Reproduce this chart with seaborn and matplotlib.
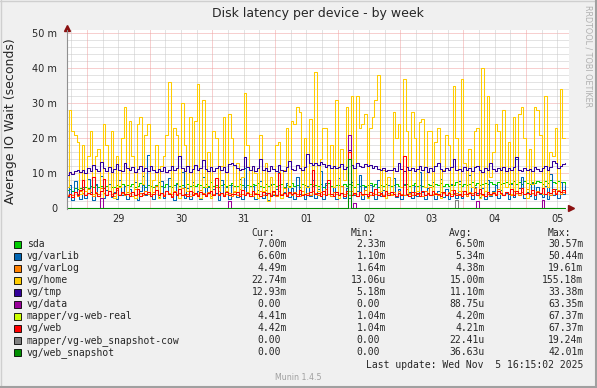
import numpy as np
import pandas as pd
import matplotlib
matplotlib.use("Agg")
import matplotlib.pyplot as plt
from matplotlib.patches import Rectangle
import seaborn as sns

W, H = 597, 388

devices = ["sda", "vg/varLib", "vg/varLog", "vg/home", "vg/tmp", "vg/data",
           "mapper/vg-web-real", "vg/web", "mapper/vg-web_snapshot-cow", "vg/web_snapshot"]
colors = ["#00CC00", "#0066B3", "#FF8000", "#FFCC00", "#330099", "#990099",
          "#CCFF00", "#FF0000", "#808080", "#008F00"]

# hourly average IO wait in milliseconds, first sample Oct 28 16:00
sda = [5.2, 5.4, 5.0, 5.6, 5.3, 5.8, 5.5, 6.1, 5.7, 6.3, 5.9, 6.6, 6.0, 6.4, 5.8, 6.2, 6.8, 6.1, 5.9, 6.5, 6.3, 7.0, 6.2, 6.6,
       6.4, 6.9, 6.0, 6.3, 7.2, 6.5, 6.1, 6.7, 6.3, 5.9, 6.6, 7.4, 6.2, 6.0, 6.8, 6.4, 6.1, 6.7, 7.1, 6.3, 6.5, 6.0, 6.9, 6.2,
       6.6, 6.3, 7.0, 6.5, 6.1, 6.8, 6.4, 7.3, 6.2, 6.7, 6.0, 6.5, 6.9, 6.3, 6.6, 7.1, 6.4, 6.2, 6.8, 6.5, 6.0, 6.7, 6.3, 6.9,
       6.5, 7.2, 6.4, 6.0, 6.8, 6.3, 6.6, 7.0, 6.2, 6.5, 6.9, 6.1, 6.7, 6.4, 7.1, 6.3, 6.6, 6.0, 6.8, 6.5, 6.2, 7.0, 6.4, 6.7,
       6.3, 6.9, 6.1, 6.6, 7.2, 6.4, 6.0, 6.7, 6.5, 6.2, 6.8, 6.3, 7.0, 6.6, 6.1, 6.9, 6.4, 6.7, 6.2, 6.5, 7.1, 6.3, 6.8, 6.0,
       6.6, 6.3, 6.9, 6.5, 6.2, 6.7, 7.0, 6.4, 6.1, 6.6, 6.8, 6.3, 6.5, 7.2, 6.2, 6.7, 6.4, 6.0, 6.9, 6.5, 6.3, 6.8, 6.6, 7.1,
       6.4, 6.9, 6.2, 6.7, 6.5, 7.3, 6.8, 6.4, 7.0, 6.6, 6.9, 7.4, 6.7, 7.1, 6.5, 6.8, 7.2, 6.9, 7.5, 7.0, 6.7, 7.3, 6.9, 7.1,
       7.4, 6.8, 7.2, 7.6, 6.9, 7.3, 7.0, 7.7, 7.2, 6.9, 7.5, 7.1, 7.8, 7.3, 7.0, 7.6, 7.2, 7.9, 7.4, 7.1, 7.7, 7.3, 7.5, 7.0]

var_lib = [3.2, 6.5, 2.4, 7.8, 4.1, 2.6, 5.9, 3.0, 8.4, 4.5, 2.2, 6.8, 3.5, 9.1, 2.8, 5.2, 7.0, 3.1, 4.6, 2.5, 8.0, 3.8, 6.2, 2.7,
           5.5, 3.3, 7.4, 2.4, 4.9, 9.2, 3.6, 15.2, 4.0, 2.6, 6.4, 3.2, 7.7, 2.9, 5.0, 8.6, 3.4, 2.3, 6.9, 4.2, 10.3, 3.0, 5.7, 2.6,
           7.5, 3.9, 4.8, 2.5, 8.8, 3.6, 6.1, 2.8, 5.4, 4.4, 2.4, 7.9, 3.3, 5.9, 2.7, 6.6, 4.0, 3.1, 8.2, 2.6, 11.4, 4.7, 3.5, 6.3,
           2.5, 5.2, 7.6, 3.0, 4.3, 2.4, 6.8, 3.7, 5.5, 10.2, 2.8, 4.6, 7.1, 3.2, 5.8, 2.5, 9.0, 3.9, 4.9, 2.7, 6.4, 3.4, 8.1, 3.0,
           5.3, 10.6, 2.6, 7.2, 4.1, 3.3, 6.0, 2.5, 8.5, 4.4, 3.0, 5.6, 2.8, 7.3, 3.6, 4.8, 9.5, 2.7, 5.9, 3.2, 6.7, 4.3, 2.6, 7.9,
           3.5, 5.1, 2.8, 6.5, 4.0, 8.7, 3.1, 5.4, 2.5, 7.0, 3.8, 4.6, 2.9, 6.2, 3.3, 10.4, 4.5, 2.7, 5.8, 3.6, 7.4, 2.6, 4.9, 8.3,
           3.2, 5.5, 2.5, 6.9, 4.2, 3.0, 7.7, 2.8, 5.0, 3.9, 9.3, 2.6, 6.1, 4.4, 3.1, 5.7, 2.7, 8.0, 3.5, 4.8, 6.6, 2.9, 5.2, 3.7,
           4.3, 2.6, 6.8, 3.2, 14.1, 5.6, 8.9, 2.8, 4.5, 3.4, 7.2, 2.7, 5.9, 4.0, 3.1, 6.4, 2.5, 9.8, 3.6, 5.3, 2.9, 7.5, 4.1, 6.6]

var_log = [3.6, 4.1, 3.8, 4.5, 3.4, 4.9, 4.2, 3.7, 5.3, 4.0, 3.5, 4.6, 3.9, 5.8, 4.3, 3.6, 4.8, 4.1, 3.4, 5.1, 3.8, 4.4, 3.6, 4.7,
           4.2, 3.5, 5.5, 3.9, 4.3, 3.7, 4.9, 4.1, 3.3, 4.6, 6.2, 3.8, 4.4, 3.6, 5.0, 4.2, 3.5, 4.8, 3.9, 4.3, 5.6, 3.7, 4.1, 3.4,
           4.7, 4.0, 3.6, 5.2, 4.3, 3.8, 4.6, 3.5, 4.1, 6.0, 3.9, 4.4, 3.7, 4.9, 4.2, 3.5, 4.5, 3.8, 5.3, 4.0, 3.6, 4.7, 4.1, 3.4,
           4.4, 3.9, 4.8, 3.6, 5.1, 4.2, 3.7, 4.5, 3.4, 4.9, 4.0, 5.7, 3.8, 4.3, 3.6, 4.6, 4.1, 3.5, 5.0, 3.9, 4.4, 3.7, 4.8, 4.2,
           3.6, 4.5, 3.9, 5.4, 4.1, 3.5, 4.7, 4.0, 3.7, 6.4, 3.9, 4.3, 3.6, 4.8, 4.2, 3.5, 4.6, 3.8, 5.2, 4.0, 3.6, 4.4, 3.9, 4.7,
           4.1, 3.6, 5.0, 4.3, 3.8, 4.5, 3.5, 4.9, 4.0, 3.7, 5.5, 4.2, 3.6, 4.6, 3.9, 4.3, 3.5, 4.8, 4.1, 5.9, 3.8, 4.4, 3.6, 4.7,
           4.2, 3.7, 4.5, 5.1, 3.9, 4.3, 3.6, 4.8, 4.0, 3.5, 4.6, 4.2, 5.6, 3.8, 4.4, 3.7, 4.9, 4.1, 3.6, 4.5, 3.9, 5.3, 4.2, 3.7,
           4.6, 4.0, 3.8, 5.0, 4.3, 3.6, 4.7, 4.1, 5.4, 3.9, 4.4, 3.7, 4.8, 4.2, 5.8, 4.0, 4.5, 3.8, 4.9, 4.3, 5.2, 4.1, 4.6, 4.5]

home = [6, 28, 22, 21, 19, 4, 18, 5, 15, 22, 4, 15, 17, 3, 24, 18, 5, 22, 3, 15, 6, 20, 29, 4,
        25, 15, 3, 24, 26, 7, 21, 24, 4, 8, 18, 3, 12, 15, 21, 36, 4, 23, 21, 3, 30, 18, 5, 26,
        4, 25, 35.5, 3, 31, 6, 16, 3, 22, 20, 5, 12, 26, 4, 27, 20, 5, 13, 4, 9, 33, 18, 4, 12,
        10, 3, 21, 5, 13, 2, 9, 4, 18, 19, 3, 11, 23, 6, 25, 24, 29, 27.5, 4, 20, 6, 25.5, 7, 39,
        5, 14, 23, 23, 4, 18, 6, 31, 3, 17, 8, 29, 5, 32, 4, 32, 23, 24, 27, 3, 23, 26, 31, 38,
        5, 11, 3, 9, 4, 27.5, 20, 24, 6, 37, 22, 4, 27.5, 20, 5, 24.5, 25.5, 6, 22, 22, 4, 19, 23, 3,
        11, 21, 18, 4, 35, 20, 5, 37, 13, 4, 17, 6, 22, 23, 3, 40, 5, 32, 9, 16, 24, 22, 4, 28,
        6, 19, 4, 26, 5, 27, 29, 20, 3, 17, 7, 29, 28, 21, 4, 32, 6, 16, 15, 23, 5, 34, 20, 20]

tmp = [9.5, 10.2, 9.8, 10.6, 11.0, 10.3, 10.8, 9.9, 11.4, 10.6, 12.2, 11.1, 10.5, 13.2, 11.3, 10.7, 11.8, 10.4, 11.2, 12.5, 11.0, 10.6, 12.8, 11.4,
       10.8, 11.6, 10.3, 11.1, 12.0, 10.7, 11.3, 10.5, 11.9, 10.9, 10.4, 11.2, 10.6, 11.7, 10.2, 11.0, 12.1, 10.8, 11.5, 15.0, 11.3, 10.6, 11.9, 10.4,
       11.2, 12.4, 10.9, 11.5, 13.6, 11.1, 10.7, 11.8, 10.5, 11.3, 12.0, 10.8, 11.6, 10.4, 12.6, 12.9, 12.2, 11.5, 10.8, 11.2, 14.5, 11.6, 10.9, 12.0,
       10.5, 11.3, 14.0, 10.9, 11.5, 10.6, 11.9, 11.2, 10.7, 12.3, 11.0, 10.5, 11.7, 13.5, 11.1, 10.8, 12.2, 11.4, 10.9, 11.6, 15.5, 13.0, 12.4, 12.9,
       12.3, 13.1, 12.6, 11.8, 12.4, 11.5, 12.0, 11.3, 11.7, 12.5, 11.1, 11.6, 16.7, 12.2, 11.4, 12.8, 12.1, 11.6, 12.5, 11.9, 12.3, 11.4, 12.0, 11.2,
       10.8, 11.3, 10.6, 11.0, 10.9, 11.5, 10.7, 13.0, 11.2, 10.6, 11.8, 10.9, 11.4, 10.5, 11.1, 12.0, 10.8, 11.6, 10.4, 11.3, 10.7, 11.9, 13.0, 11.1,
       10.6, 11.4, 10.9, 11.7, 14.0, 10.8, 11.2, 10.5, 11.6, 10.9, 11.3, 10.6, 11.8, 12.0, 11.0, 10.4, 11.5, 10.8, 12.9, 11.2, 10.7, 11.4, 10.9, 11.6,
       10.5, 11.3, 10.8, 11.7, 14.5, 11.0, 10.6, 11.5, 10.9, 11.2, 10.7, 11.8, 11.1, 10.5, 11.4, 12.0, 10.9, 11.6, 13.5, 12.8, 11.3, 11.9, 12.6, 12.9]

web = [3.5, 4.1, 3.2, 4.6, 3.8, 5.2, 8.1, 3.6, 4.4, 3.9, 9.0, 4.3, 3.4, 5.0, 8.2, 3.7, 4.8, 3.3, 4.2, 5.6, 3.6, 4.5, 3.9, 4.1,
       3.4, 4.7, 3.8, 5.3, 3.5, 4.2, 3.9, 4.6, 3.3, 4.0, 5.1, 3.7, 4.4, 3.5, 4.8, 3.9, 3.2, 4.5, 3.8, 5.4, 3.6, 4.1, 3.4, 4.9,
       3.7, 4.3, 3.5, 4.6, 3.9, 3.3, 4.2, 5.0, 3.6, 8.5, 3.8, 4.4, 3.4, 4.7, 3.6, 4.1, 3.9, 4.5, 3.3, 5.2, 3.7, 4.2, 3.5, 4.8,
       3.9, 4.0, 3.4, 4.6, 3.8, 4.3, 3.5, 4.9, 3.7, 10.1, 3.6, 4.2, 3.4, 4.7, 3.9, 4.4, 3.5, 5.1, 3.8, 4.0, 3.6, 4.5, 11.0, 3.9,
       4.3, 3.5, 4.8, 3.7, 8.0, 4.1, 3.4, 4.6, 3.8, 4.2, 3.5, 4.9, 16.0, 3.6, 4.4, 3.3, 4.7, 3.9, 4.1, 3.5, 4.6, 3.8, 5.3, 3.6,
       4.2, 3.4, 4.8, 3.7, 4.5, 3.9, 3.3, 4.3, 3.6, 15.0, 4.0, 3.5, 4.7, 3.8, 4.2, 3.4, 4.9, 3.7, 4.4, 3.6, 5.0, 3.9, 4.1, 3.5,
       4.6, 3.8, 4.3, 3.5, 5.2, 3.7, 4.0, 3.4, 4.8, 3.9, 4.4, 3.6, 4.7, 3.8, 5.5, 4.1, 3.5, 4.6, 3.9, 4.3, 3.7, 5.0, 4.2, 3.8,
       4.5, 4.0, 5.3, 3.7, 4.8, 4.2, 5.6, 3.9, 4.4, 4.1, 5.1, 3.8, 4.7, 4.3, 5.8, 4.0, 4.6, 4.2, 5.4, 4.1, 4.9, 4.5, 5.2, 4.4]

# mapper/vg-web-real follows vg/web and sits hidden beneath it
web_real = web

# mostly idle devices: hour index -> ms
data_spikes = {13: 3.0, 62: 2.0, 108: 21.0, 110: 1.5, 157: 2.0, 182: 2.3}
cow_spikes = {149: 2.3}
snapshot_spikes = {108: 14.0}

cur_vals = ["7.00m", "6.60m", "4.49m", "22.74m", "12.93m", "0.00", "4.41m", "4.42m", "0.00", "0.00"]
min_vals = ["2.33m", "1.10m", "1.64m", "13.06u", "5.18m", "0.00", "1.04m", "1.04m", "0.00", "0.00"]
avg_vals = ["6.50m", "5.34m", "4.38m", "15.00m", "11.10m", "88.75u", "4.20m", "4.21m", "22.41u", "36.63u"]
max_vals = ["30.57m", "50.44m", "19.61m", "155.18m", "33.38m", "63.35m", "67.37m", "67.37m", "19.24m", "42.01m"]

day_labels = ["29", "30", "31", "01", "02", "03", "04", "05"]


def from_spikes(spikes, n):
    vals = np.zeros(n)
    for k, v in spikes.items():
        vals[k] = v
    return vals


n = len(home)
series = {
    "sda": sda, "vg/varLib": var_lib, "vg/varLog": var_log, "vg/home": home, "vg/tmp": tmp,
    "vg/data": from_spikes(data_spikes, n), "mapper/vg-web-real": web_real, "vg/web": web,
    "mapper/vg-web_snapshot-cow": from_spikes(cow_spikes, n),
    "vg/web_snapshot": from_spikes(snapshot_spikes, n),
}
frames = []
for dev in devices:
    vals = series[dev]
    frames.append(pd.DataFrame({"hour": 16 + np.arange(len(vals)), "ms": vals, "device": dev}))
df = pd.concat(frames, ignore_index=True)

sns.set_style("white")
plt.rcParams["font.family"] = ["DejaVu Sans"]

fig = plt.figure(figsize=(W / 100, H / 100), dpi=100, facecolor="#F0F0F0")
ax = fig.add_axes([67 / W, (H - 208.7) / H, (569 - 67) / W, (208.7 - 30) / H])
ax.set_facecolor("white")

x0, x1 = 16.34, 208.5
ax.set_xlim(x0, x1)
ax.set_ylim(-0.2, 50.86)

# grid: gray dotted every 2 m / 6 h, red dotted every 10 m / midnight
for y in range(2, 51, 2):
    c = "#F0A0A0" if y % 10 == 0 else "#C8C8C8"
    ax.axhline(y, color=c, lw=0.72, ls=(0, (1, 1)), zorder=0)
for h in range(18, 209, 6):
    c = "#F0A0A0" if h % 24 == 0 else "#C8C8C8"
    ax.axvline(h, color=c, lw=0.72, ls=(0, (1, 1)), zorder=0)

for dev, col in zip(devices, colors):
    sns.lineplot(data=df[df["device"] == dev], x="hour", y="ms", color=col, ax=ax,
                 drawstyle="steps-post", lw=0.75, legend=False, estimator=None, errorbar=None,
                 snap=True)

ax.set_xticks(np.arange(36, 36 + 24 * len(day_labels), 24), day_labels)
ax.set_yticks([0, 10, 20, 30, 40, 50], ["0", "10 m", "20 m", "30 m", "40 m", "50 m"])
ax.tick_params(axis="y", length=0, pad=7, labelsize=7)
ax.tick_params(axis="x", length=0, pad=3.5, labelsize=7)
ax.set_xlabel("")
ax.set_ylabel("")
for s in ["top", "right", "bottom"]:
    ax.spines[s].set_visible(False)
ax.spines["left"].set_color("#909090")
ax.spines["left"].set_linewidth(0.8)

# axis arrows
ax.plot([0], [1.01], marker="^", ms=4, color="#8B1010", transform=ax.transAxes, clip_on=False)
ax.plot([1.004], [0.004], marker=">", ms=4, color="#8B1010", transform=ax.transAxes, clip_on=False)

fig.text(317.5 / W, 1 - 14 / H, "Disk latency per device - by week", ha="center", va="center", fontsize=9)
fig.text(11 / W, 1 - 121 / H, "Average IO Wait (seconds)", rotation=90, ha="center", va="center", fontsize=9)
fig.text(588 / W, 1 - 56.5 / H, "RRDTOOL / TOBI OETIKER", rotation=270, ha="center", va="center",
         fontsize=5.8, color="#B0B0B0")
fig.text(298 / W, 1 - 377 / H, "Munin 1.4.5", ha="center", va="center", fontsize=5.7, color="#A0A0A0")

mono = dict(family="DejaVu Sans Mono", fontsize=7, va="center")
cw = 5.85
fig.text(251.7 / W, 1 - 233.3 / H, "Cur:", ha="left", **mono)
fig.text(350.7 / W, 1 - 233.3 / H, "Min:", ha="left", **mono)
fig.text(449.3 / W, 1 - 233.3 / H, "Avg:", ha="left", **mono)
fig.text(547.7 / W, 1 - 233.3 / H, "Max:", ha="left", **mono)
col_right = [286.7, 386.0, 485.0, 583.3]
for i, dev in enumerate(devices):
    y = 244.3 + 12 * i
    fig.add_artist(Rectangle((13.5 / W, 1 - (y + 3.5) / H), 7 / W, 7 / H, transform=fig.transFigure,
                             facecolor=colors[i], edgecolor="black", lw=0.6))
    fig.text(26.7 / W, 1 - y / H, dev, ha="left", **mono)
    for xr, vals in zip(col_right, [cur_vals, min_vals, avg_vals, max_vals]):
        v = vals[i]
        xx = xr - cw if v[-1].isdigit() else xr
        fig.text(xx / W, 1 - y / H, v, ha="right", **mono)
fig.text(583.3 / W, 1 - 365 / H, "Last update: Wed Nov  5 16:15:02 2025", ha="right", **mono)

# image frame
fig.add_artist(plt.Line2D([0, 1], [1 - 0.5 / H, 1 - 0.5 / H], color="#CFCFCF", lw=1, transform=fig.transFigure))
fig.add_artist(plt.Line2D([0.5 / W, 0.5 / W], [0, 1], color="#CFCFCF", lw=1, transform=fig.transFigure))
fig.add_artist(plt.Line2D([0, 1], [1 / H, 1 / H], color="#A0A0A0", lw=1.5, transform=fig.transFigure))
fig.add_artist(plt.Line2D([1 - 1 / W, 1 - 1 / W], [0, 1], color="#A0A0A0", lw=1.5, transform=fig.transFigure))

fig.savefig("out.png", dpi=100, facecolor=fig.get_facecolor())
